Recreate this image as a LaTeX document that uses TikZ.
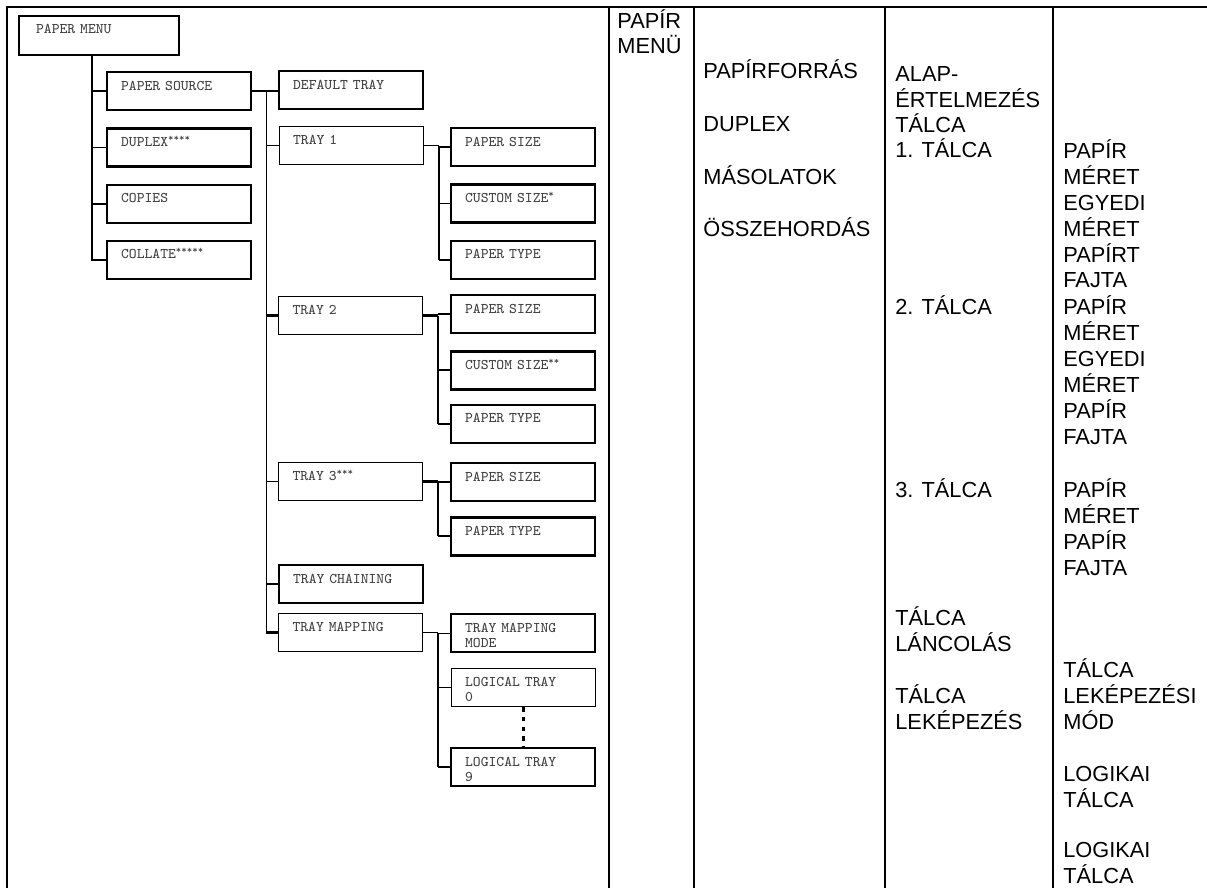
\documentclass[tikz,border=0pt]{standalone}
\usepackage{fontspec}
\newfontfamily\cellfont{Liberation Sans}
\usetikzlibrary{positioning}

\begin{document}
\begin{tikzpicture}[
    x=0.02cm, y=-0.02cm,
    node distance=0.32cm,
    menubox/.style={draw=black, line width=1.3pt, anchor=north west, inner xsep=0.28cm, inner ysep=0pt,
        text width=2.32cm, align=left, text height=0.36cm, text depth=0.40cm,
        font=\ttfamily\fontsize{8.4}{8.5}\selectfont, text=black!75},
    lightbox/.style={menubox, line width=0.6pt},
    wire/.style={line width=1.2pt},
    thinwire/.style={line width=0.6pt},
    rule/.style={line width=1.3pt},
    dotline/.style={line width=1.6pt, dash pattern=on 2.5pt off 3pt},
    % multi-line cells hang from the baseline of their last line
    cell/.style={anchor=base west, inner sep=0pt, align=left, font=\cellfont\fontsize{12.4}{14.7}\selectfont},
]
    \useasboundingbox (0,0) rectangle (1207,888);

    % table frame
    \draw[rule] (6,7) -- (1207,7);
    \draw[rule] (7,7) -- (7,888);
    \foreach \cx in {609, 694, 885, 1053}
        \draw[rule] (\cx,7) -- (\cx,888);

    % menu tree
    \node[menubox, inner xsep=0.34cm, text width=2.52cm, text height=0.34cm, text depth=0.44cm] (menu) at (18,15) {PAPER MENU};

    \node[menubox] (src) at (106,71) {PAPER SOURCE};
    \node[menubox, below=of src] (dup) {DUPLEX\textsuperscript{****}};
    \node[menubox, below=of dup] (cop) {COPIES};
    \node[menubox, below=of cop] (coll) {COLLATE\textsuperscript{*****}};

    \node[menubox] (def) at (278,70) {DEFAULT TRAY};
    \node[lightbox, below=of def] (t1) {TRAY 1};
    \node[lightbox] (t2) at (278,296) {TRAY 2};
    \node[lightbox] (t3) at (278,462) {TRAY 3\textsuperscript{***}};
    \node[menubox] (chain) at (278,564) {TRAY CHAINING};
    \node[lightbox] (map) at (278,613) {TRAY MAPPING};

    \node[menubox] (size1) at (450,127) {PAPER SIZE};
    \node[menubox, below=of size1] (cust1) {CUSTOM SIZE\textsuperscript{*}};
    \node[menubox, below=of cust1] (type1) {PAPER TYPE};

    \node[menubox] (size2) at (450,294) {PAPER SIZE};
    \node[menubox, below=of size2] (cust2) {CUSTOM SIZE\textsuperscript{**}};
    \node[menubox, below=0.26cm of cust2] (type2) {PAPER TYPE};

    \node[menubox] (size3) at (450,462) {PAPER SIZE};
    \node[menubox, below=0.28cm of size3] (type3) {PAPER TYPE};

    \node[menubox] (mode) at (450,613) {TRAY MAPPING\\MODE};
    \node[lightbox, below=0.3cm of mode] (lt0) {LOGICAL TRAY\\0};
    \node[menubox] (lt9) at (450,747) {LOGICAL TRAY\\9};

    % first level
    \coordinate (trunk) at ([xshift=1.48cm]menu.south west);
    \draw[wire] (trunk) |- (coll.west);
    \draw[wire] (src.west) -- (src.west -| trunk);
    \draw[thinwire] (dup.west) -- (dup.west -| trunk);
    \draw[wire] (cop.west) -- (cop.west -| trunk);

    % second level
    \coordinate (fork) at ([xshift=0.28cm]src.east);
    \draw[thinwire] (fork) -- (fork |- map.west);
    \draw[wire] (src.east) -- (src.east -| def.west);
    \draw[thinwire] (t1.west) -- (t1.west -| fork);
    \draw[wire] (t2.west) -- (t2.west -| fork);
    \draw[thinwire] (t3.west) -- (t3.west -| fork);
    \draw[wire] (chain.west) -- (chain.west -| fork);
    \draw[wire] (map.west) -- (map.west -| fork);

    % third level
    \foreach \p/\last/\w in {t1/type1/thinwire, t2/type2/wire, t3/type3/wire, map/lt9/thinwire} {
        \coordinate (f\p) at ([xshift=0.3cm]\p.east);
        \draw[wire] (f\p) -- (f\p |- \last.west);
        \draw[\w] (\p.east) -- (f\p);
    }
    \foreach \c/\p/\w in {size1/t1/wire, cust1/t1/thinwire, type1/t1/wire,
                          size2/t2/wire, cust2/t2/wire, type2/t2/wire,
                          size3/t3/wire, type3/t3/wire,
                          mode/map/thinwire, lt0/map/thinwire, lt9/map/wire}
        \draw[\w] (\c.west) -- (\c.west -| f\p);
    \draw[dotline] (lt0) -- (lt9);

    % Hungarian columns
    \node[cell] (c2) at (617,54) {PAPÍR\\MENÜ};

    \node[cell] (c3a) at (703,79) {PAPÍRFORRÁS};
    \node[cell] (c3b) at (703,132) {DUPLEX};
    \node[cell] (c3c) at (703,185) {MÁSOLATOK};
    \node[cell] (c3d) at (703,237) {ÖSSZEHORDÁS};

    \node[cell] (c4a) at (895,133) {ALAP-\\ÉRTELMEZÉS\\TÁLCA};
    \node[cell] (c4b) at (895,158) {1. TÁLCA};
    \node[cell] (c4c) at (895,315) {2. TÁLCA};
    \node[cell] (c4d) at (895,497) {3. TÁLCA};
    \node[cell] (c4e) at (895,651) {TÁLCA\\LÁNCOLÁS};
    \node[cell] (c4f) at (895,729) {TÁLCA\\LEKÉPEZÉS};

    \node[cell] (c5a) at (1063,288) {PAPÍR\\MÉRET\\EGYEDI\\MÉRET\\PAPÍRT\\FAJTA};
    \node[cell] (c5b) at (1063,444) {PAPÍR\\MÉRET\\EGYEDI\\MÉRET\\PAPÍR\\FAJTA};
    \node[cell] (c5c) at (1063,575) {PAPÍR\\MÉRET\\PAPÍR\\FAJTA};
    \node[cell] (c5d) at (1063,729) {TÁLCA\\LEKÉPEZÉSI\\MÓD};
    \node[cell] (c5e) at (1063,807) {LOGIKAI\\TÁLCA};
    \node[cell] (c5f) at (1063,883) {LOGIKAI\\TÁLCA};
\end{tikzpicture}
\end{document}
